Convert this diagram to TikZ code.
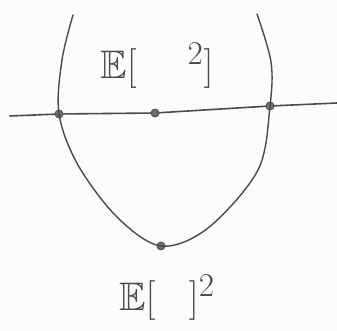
\documentclass[tikz,border=0pt]{standalone}
\usepackage{amsmath,amssymb}
\usepackage{xcolor}
\usepackage{tikz}
\definecolor{SKPencil}{HTML}{4A4A48}
\definecolor{SKPaper}{HTML}{FCFCFA}
\tikzset{
  skcurve/.style={draw=SKPencil, line width=1.4pt, line cap=round},
  skline/.style={draw=SKPencil, line width=1.6pt, line cap=round},
  skdot/.style={circle, draw=SKPencil, fill=SKPencil!80, line width=0.8pt,
    inner sep=0pt, minimum size=8pt},
  sklabel/.style={text=SKPencil, font=\Huge, scale=1.6}
}

\begin{document}
\begin{tikzpicture}[x=1pt, y=-1pt]
  \fill[SKPaper] (0,0) rectangle (337,331);
  \useasboundingbox (0,0) rectangle (337,331);

  % the curve and its points
  \coordinate (topL) at (73,15);
  \coordinate (topR) at (257,14);
  \node[skdot] (pL) at (59,114) {};
  \node[skdot] (pM) at (155,113) {};
  \node[skdot] (pR) at (270,106) {};
  \node[skdot] (pB) at (161,246) {};
  \coordinate (lineL) at (10,116);
  \coordinate (lineR) at (337,103);

  \draw[skcurve] plot[smooth, tension=0.55] coordinates
    {(topL) (62,60) (pL.center) (78,165) (117,217)
     (pB.center) (208,228) (258,170) (pR.center)
     (271,62) (topR)};
  \draw[skline] (lineL) -- (pL) -- (pM) -- (pR) -- (lineR);

  \node[sklabel] (expsq) at (157,66) {$\mathbb{E}[\quad\;{}^{2}]$};
  \node[sklabel] (sqexp) at (167,298) {$\mathbb{E}[\;\;\;]^{2}$};
\end{tikzpicture}
\end{document}
